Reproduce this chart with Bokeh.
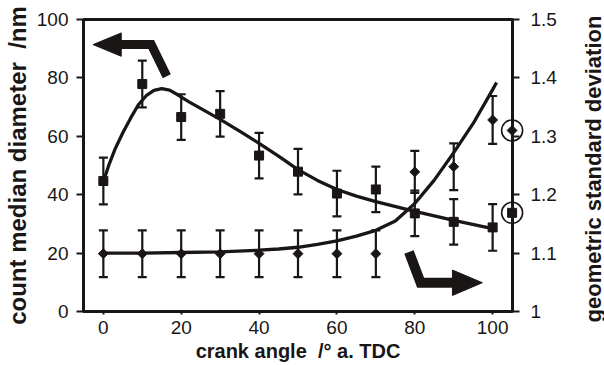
import math
from bokeh.plotting import figure
from bokeh.core.properties import value
from bokeh.models import (Range1d, LinearAxis, FixedTicker, NumeralTickFormatter,
                          Whisker, TeeHead, ColumnDataSource)
from bokeh.embed import file_html
from bokeh.resources import INLINE

# ---------------- data ----------------
angle = [0, 10, 20, 30, 40, 50, 60, 70, 80, 90, 100]
cmd_nm = [44.7, 77.9, 66.6, 67.7, 53.4, 47.9, 40.4, 41.8, 33.6, 30.7, 28.8]
cmd_err = [8.0, 8.0, 7.8, 7.8, 7.8, 7.8, 7.8, 7.8, 7.8, 7.8, 8.0]
gsd = [1.099, 1.099, 1.099, 1.099, 1.099, 1.099, 1.099, 1.099, 1.239, 1.248, 1.328]
gsd_err = [0.04, 0.04, 0.04, 0.04, 0.04, 0.04, 0.04, 0.04, 0.036, 0.04, 0.041]

ref_angle = [105]
ref_cmd = [33.8]
ref_gsd = [1.31]

cmd_fit_angle = [0, 1.5, 3, 5, 7, 9, 11, 13, 15, 17, 19, 22, 26, 30, 35, 40, 45,
                 50, 55, 60, 65, 70, 80, 90, 100]
cmd_fit = [44.4, 50.5, 55.6, 61.2, 66.2, 70.8, 73.9, 75.7, 76.3, 75.8, 74.3, 71.8,
           68.8, 65.8, 61.8, 57.6, 53.2, 48.6, 44.9, 41.8, 39.5, 37.6, 34.3, 31.2, 28.4]

gsd_fit_angle = [0, 10, 20, 30, 40, 45, 50, 55, 60, 65, 70, 75, 80, 85, 90, 95, 100, 101]
gsd_fit = [1.100, 1.100, 1.101, 1.102, 1.105, 1.107, 1.110, 1.115, 1.121, 1.129,
           1.139, 1.155, 1.185, 1.225, 1.272, 1.322, 1.380, 1.392]

x_ticks = [0, 20, 40, 60, 80, 100]
cmd_ticks = [0, 20, 40, 60, 80, 100]
gsd_ticks = [1.0, 1.1, 1.2, 1.3, 1.4, 1.5]

x_title = "crank angle \u00a0/\u00b0 a. TDC"
left_title = "count median diameter \u00a0/nm"
right_title = "geometric standard deviation"
# anchor of the right-hand title (beyond the right axis, in angle / cmd units)
right_title_x = [125.8]
right_title_y = [48.8]

# arrow annotations (angle, cmd-axis units)
arrow_left_x = [16.3, 12.3, 4.0]
arrow_left_y = [80.6, 91.4, 91.4]
arrow_left_head_x = [-2.64, 4.6, 4.6]
arrow_left_head_y = [91.4, 95.4, 87.4]
arrow_right_x = [78.5, 81.5, 90.2]
arrow_right_y = [20.4, 9.86, 9.86]
arrow_right_head_x = [97.36, 89.67, 89.67]
arrow_right_head_y = [9.86, 14.2, 5.5]

INK = "#1a1616"
FONT = "Liberation Sans"

p = figure(width=604, height=365, x_range=Range1d(-5.1, 105.1), y_range=Range1d(0, 100),
           output_backend="svg", toolbar_location=None,
           min_border_left=82, min_border_right=92, min_border_top=19, min_border_bottom=54)
p.extra_y_ranges = {"gsd": Range1d(1.0, 1.5)}
p.background_fill_color = "white"
p.border_fill_color = "white"
p.grid.visible = False
p.outline_line_color = INK
p.outline_line_width = 3

# left axis
ya = p.yaxis[0]
ya.ticker = FixedTicker(ticks=cmd_ticks)
ya.axis_label = left_title
# bottom axis
xa = p.xaxis[0]
xa.ticker = FixedTicker(ticks=x_ticks)
xa.axis_label = x_title
# right axis (its title is drawn as rotated text, reading bottom-to-top)
ra = LinearAxis(y_range_name="gsd", ticker=FixedTicker(ticks=gsd_ticks),
                formatter=NumeralTickFormatter(format="0.[0]"))
p.add_layout(ra, "right")

for ax in (xa, ya, ra):
    ax.axis_line_color = INK
    ax.axis_line_width = 3
    ax.major_tick_line_color = INK
    ax.major_tick_line_width = 2
    ax.major_tick_in = 0
    ax.major_tick_out = 7
    ax.minor_tick_line_color = None
    ax.major_label_text_font = FONT
    ax.major_label_text_font_size = "19px"
    ax.major_label_text_color = INK
    ax.axis_label_text_font = FONT
    ax.axis_label_text_font_style = "bold"
    ax.axis_label_text_color = INK

xa.major_tick_out = 3
xa.major_label_standoff = 6
xa.axis_label_standoff = 3
xa.axis_label_text_font_size = "20px"
ya.major_label_standoff = 8
ya.axis_label_standoff = 3
ya.axis_label_text_font_size = "24px"
ra.major_label_standoff = 11

p.text(x=right_title_x, y=right_title_y, text=[right_title], angle=math.pi / 2,
       text_align="center", text_baseline="alphabetic", text_font=value(FONT),
       text_font_style="bold", text_font_size="22px", text_color=INK, level="overlay")

# fitted curves
p.line(cmd_fit_angle, cmd_fit, line_color=INK, line_width=3.3)
p.line(gsd_fit_angle, gsd_fit, line_color=INK, line_width=3.3, y_range_name="gsd")

# error bars
src_cmd = ColumnDataSource(dict(x=angle,
                                lo=[v - e for v, e in zip(cmd_nm, cmd_err)],
                                hi=[v + e for v, e in zip(cmd_nm, cmd_err)]))
src_gsd = ColumnDataSource(dict(x=angle,
                                lo=[v - e for v, e in zip(gsd, gsd_err)],
                                hi=[v + e for v, e in zip(gsd, gsd_err)]))
for src, rn in ((src_cmd, "default"), (src_gsd, "gsd")):
    w = Whisker(base="x", lower="lo", upper="hi", source=src, y_range_name=rn,
                line_color=INK, line_width=2.2,
                upper_head=TeeHead(size=9, line_color=INK, line_width=2.2),
                lower_head=TeeHead(size=9, line_color=INK, line_width=2.2))
    p.add_layout(w)

# markers
p.scatter(angle, cmd_nm, marker="square", size=9, fill_color=INK, line_color=INK)
p.scatter(angle, gsd, marker="square", angle=math.pi / 4, size=7, fill_color=INK,
          line_color=INK, y_range_name="gsd")

# circled reference points on the right axis
p.scatter(ref_angle, ref_cmd, marker="square", size=9, fill_color=INK, line_color=INK,
          level="overlay")
p.scatter(ref_angle, ref_cmd, marker="circle", size=21, fill_color=None, line_color=INK,
          line_width=1.6, level="overlay")
p.scatter(ref_angle, ref_gsd, marker="square", angle=math.pi / 4, size=7, fill_color=INK,
          line_color=INK, y_range_name="gsd", level="overlay")
p.scatter(ref_angle, ref_gsd, marker="circle", size=21, fill_color=None, line_color=INK,
          line_width=1.6, y_range_name="gsd", level="overlay")

# arrows
p.line(arrow_left_x, arrow_left_y, line_color=INK, line_width=9, line_join="miter",
       line_cap="butt")
p.patch(arrow_left_head_x, arrow_left_head_y, fill_color=INK, line_color=INK, line_width=1)
p.line(arrow_right_x, arrow_right_y, line_color=INK, line_width=10, line_join="miter",
       line_cap="butt")
p.patch(arrow_right_head_x, arrow_right_head_y, fill_color=INK, line_color=INK, line_width=1)

open("out.html", "w").write(file_html(p, INLINE))
